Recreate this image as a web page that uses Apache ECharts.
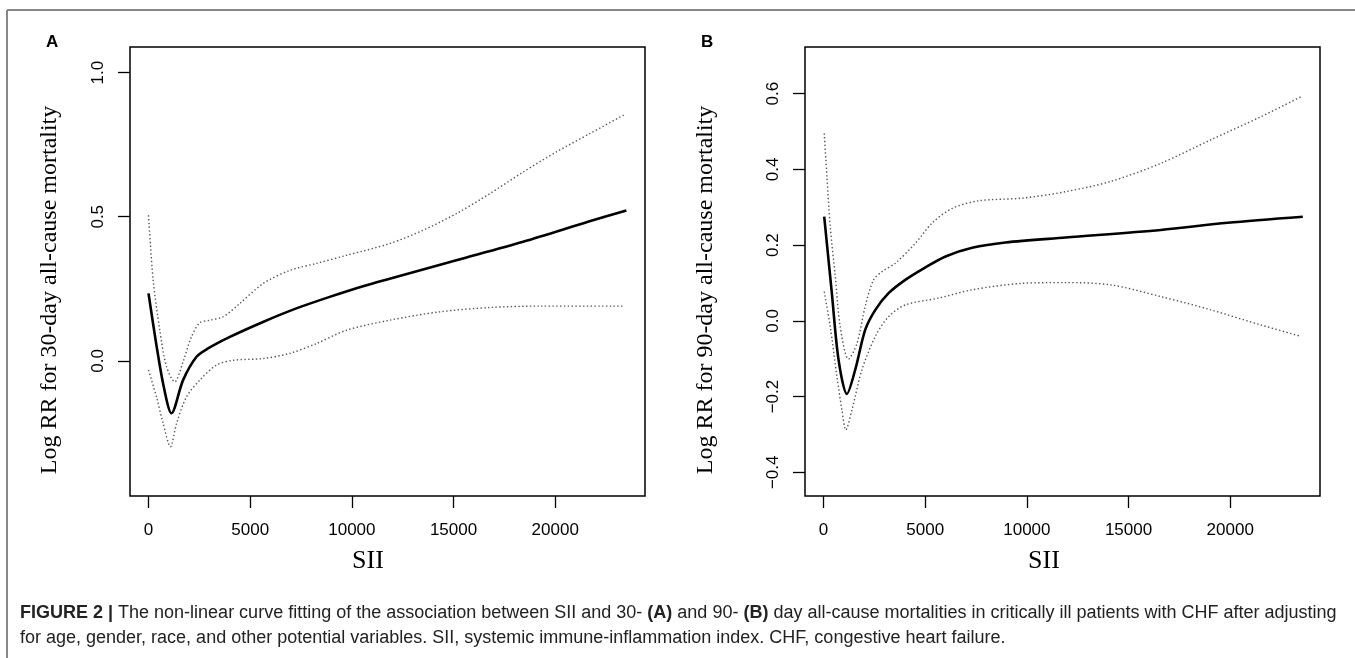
<!DOCTYPE html>
<html>
<head>
<meta charset="utf-8">
<script src="https://cdn.jsdelivr.net/npm/echarts@6/dist/echarts.min.js"></script>
<style>
html, body { margin: 0; padding: 0; background: #fff; }
#main { width: 1355px; height: 658px; }
</style>
</head>
<body>
<div id="main"></div>
<script>
// [SII, log RR]
var aFit = [[0, 0.234], [400, 0.05], [750, -0.09], [1130, -0.182], [1700, -0.067], [2360, 0.014], [2930, 0.043],
    [4000, 0.083], [5630, 0.135], [7270, 0.182], [8910, 0.222], [10550, 0.259], [11860, 0.285],
    [15140, 0.349], [18420, 0.413], [21690, 0.484], [23500, 0.522]];
var aUpper = [[0, 0.505], [230, 0.28], [555, 0.106], [885, -0.02], [1290, -0.073], [1700, -0.003], [2110, 0.083],
    [2520, 0.132], [3010, 0.141], [3670, 0.153], [4490, 0.199], [5630, 0.268], [6950, 0.314], [8260, 0.338],
    [9730, 0.366], [11860, 0.407], [13500, 0.453], [15140, 0.511], [16780, 0.58], [18420, 0.655],
    [20060, 0.725], [21690, 0.788], [23420, 0.855]];
var aLower = [[0, -0.032], [390, -0.125], [720, -0.217], [1080, -0.298], [1380, -0.217], [1870, -0.125],
    [2520, -0.067], [3340, -0.015], [4160, 0.002], [5630, 0.008], [6950, 0.026], [8260, 0.06], [9730, 0.106],
    [11860, 0.141], [14320, 0.17], [16780, 0.185], [19240, 0.19], [23330, 0.19]];

var bFit = [[35, 0.275], [410, 0.073], [740, -0.103], [1150, -0.193], [1560, -0.129], [2050, -0.024],
    [2550, 0.029], [3200, 0.073], [4020, 0.108], [4850, 0.136], [6000, 0.17], [7310, 0.193], [8950, 0.207],
    [11910, 0.22], [16590, 0.24], [19870, 0.259], [23570, 0.275]];
var bUpper = [[35, 0.495], [170, 0.381], [330, 0.249], [580, 0.117], [820, -0.015], [1230, -0.101],
    [1650, -0.059], [2050, 0.038], [2460, 0.108], [2880, 0.13], [3530, 0.152], [4520, 0.205], [5340, 0.258],
    [6330, 0.297], [7640, 0.317], [9770, 0.324], [11910, 0.341], [14120, 0.368], [16590, 0.416],
    [19050, 0.478], [21510, 0.539], [23570, 0.594]];
var bLower = [[35, 0.077], [330, -0.015], [660, -0.147], [905, -0.235], [1100, -0.288], [1400, -0.235],
    [1890, -0.129], [2550, -0.041], [3200, 0.011], [4020, 0.042], [5660, 0.06], [7310, 0.082], [9770, 0.099],
    [11910, 0.101], [14120, 0.095], [16590, 0.064], [19050, 0.029], [21510, -0.011], [23480, -0.041]];

var xTicks = [0, 5000, 10000, 15000, 20000];
var aYTicks = [0, 0.5, 1.0];
var bYTicks = [-0.4, -0.2, 0, 0.2, 0.4, 0.6];

var yTitleA = 'Log RR for 30-day all-cause mortality';
var yTitleB = 'Log RR for 90-day all-cause mortality';
var xTitle = 'SII';
var captionLine1 = 'The non-linear curve fitting of the association between SII and 30- ';
var captionLine2 = 'for age, gender, race, and other potential variables. SII, systemic immune-inflammation index. CHF, congestive heart failure.';

var sans = "'Liberation Sans', Arial, Helvetica, sans-serif";
var serif = "'Liberation Serif', 'Times New Roman', serif";

function fmt(v) {
    return v < 0 ? '\u2212' + (-v).toFixed(1) : v.toFixed(1);
}

function xAxisCfg(idx) {
    return {
        type: 'value', gridIndex: idx, min: -910, max: 24415,
        splitLine: { show: false },
        axisLine: { show: false, onZero: false },
        axisTick: { show: true, length: 12, customValues: xTicks, lineStyle: { color: '#000', width: 1.3 } },
        axisLabel: { customValues: xTicks, margin: 26, color: '#000', fontFamily: sans, fontSize: 17,
            formatter: function (v) { return String(v); } }
    };
}
function yAxisCfg(idx, mn, mx, ticks) {
    return {
        type: 'value', gridIndex: idx, min: mn, max: mx,
        splitLine: { show: false },
        axisLine: { show: false, onZero: false },
        axisTick: { show: true, length: 12, customValues: ticks, lineStyle: { color: '#000', width: 1.3 } },
        axisLabel: { customValues: ticks, rotate: 90, margin: 23, color: '#000', fontFamily: sans, fontSize: 17,
            formatter: fmt }
    };
}
function curve(data, xi, dotted) {
    return {
        type: 'line', xAxisIndex: xi, yAxisIndex: xi, data: data, smooth: 0.3,
        showSymbol: false, silent: true,
        lineStyle: dotted ? { color: '#555', width: 1.4, type: [1.4, 2.4] } : { color: '#000', width: 2.6 }
    };
}

var chart = echarts.init(document.getElementById('main'));
chart.setOption({
    animation: false,
    backgroundColor: '#fff',
    grid: [
        { left: 130, right: 710, top: 47, bottom: 162, show: true, borderColor: '#000', borderWidth: 1.5 },
        { left: 805, right: 35, top: 47, bottom: 162, show: true, borderColor: '#000', borderWidth: 1.5 }
    ],
    xAxis: [xAxisCfg(0), xAxisCfg(1)],
    yAxis: [yAxisCfg(0, -0.469, 1.089, aYTicks), yAxisCfg(1, -0.4625, 0.723, bYTicks)],
    series: [
        curve(aUpper, 0, true), curve(aLower, 0, true), curve(aFit, 0, false),
        curve(bUpper, 1, true), curve(bLower, 1, true), curve(bFit, 1, false)
    ],
    graphic: [
        { type: 'line', shape: { x1: 7, y1: 10, x2: 1355, y2: 10 }, style: { stroke: '#888', lineWidth: 2 } },
        { type: 'line', shape: { x1: 7, y1: 10, x2: 7, y2: 658 }, style: { stroke: '#888', lineWidth: 2 } },
        { type: 'text', x: 46, y: 42, style: { text: 'A', font: 'bold 17px ' + sans, fill: '#000', verticalAlign: 'middle' } },
        { type: 'text', x: 701, y: 42, style: { text: 'B', font: 'bold 17px ' + sans, fill: '#000', verticalAlign: 'middle' } },
        { type: 'text', x: 50, y: 290, rotation: Math.PI / 2,
            style: { text: yTitleA, font: '24px ' + serif, fill: '#000', align: 'center', verticalAlign: 'middle' } },
        { type: 'text', x: 706, y: 290, rotation: Math.PI / 2,
            style: { text: yTitleB, font: '24px ' + serif, fill: '#000', align: 'center', verticalAlign: 'middle' } },
        { type: 'text', x: 368, y: 561,
            style: { text: xTitle, font: '26px ' + serif, fill: '#000', align: 'center', verticalAlign: 'middle' } },
        { type: 'text', x: 1044, y: 561,
            style: { text: xTitle, font: '26px ' + serif, fill: '#000', align: 'center', verticalAlign: 'middle' } },
        { type: 'text', x: 20, y: 613,
            style: {
                text: '{b|FIGURE 2 |} ' + captionLine1 + '{b|(A)} and 90- {b|(B)} day all-cause mortalities in critically ill patients with CHF after adjusting',
                font: '18px ' + sans, fill: '#222', verticalAlign: 'middle',
                rich: { b: { fontWeight: 'bold', fontSize: 18, fontFamily: sans, fill: '#222' } }
            } },
        { type: 'text', x: 20, y: 638,
            style: { text: captionLine2, font: '18px ' + sans, fill: '#222', verticalAlign: 'middle' } }
    ]
});
</script>
</body>
</html>
